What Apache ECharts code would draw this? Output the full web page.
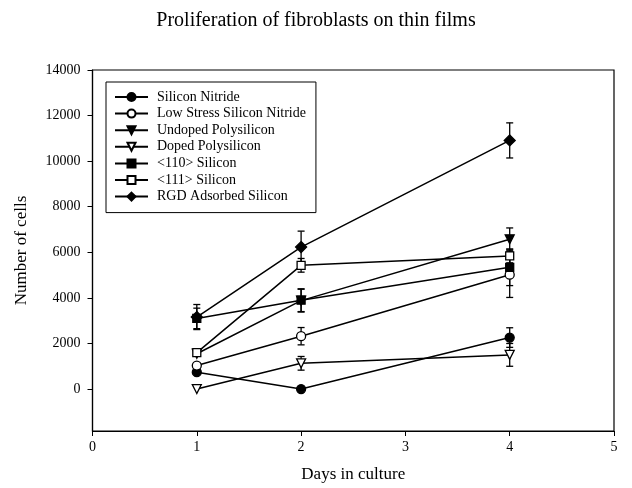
<!DOCTYPE html>
<html>
<head>
<meta charset="utf-8">
<script src="https://cdn.jsdelivr.net/npm/echarts@6/dist/echarts.min.js"></script>
<style>html,body{margin:0;padding:0;background:#fff;}#c{width:632px;height:488px;}</style>
</head>
<body>
<div id="c"></div>
<script>
var days = [1, 2, 4];
var yTicks = [0, 2000, 4000, 6000, 8000, 10000, 12000, 14000];
var seriesNames = ['Silicon Nitride', 'Low Stress Silicon Nitride', 'Undoped Polysilicon', 'Doped Polysilicon', '<110> Silicon', '<111> Silicon', 'RGD Adsorbed Silicon'];
var siliconNitride = [740, 0, 2260];
var siliconNitrideErr = [0, 0, 430];
var lowStress = [1030, 2320, 5020];
var lowStressErr = [0, 380, 1000];
var undoped = [1550, 3880, 6570];
var undopedErr = [0, 500, 500];
var doped = [0, 1130, 1500];
var dopedErr = [0, 300, 500];
var si110 = [3100, 3900, 5340];
var si110Err = [450, 500, 800];
var si111 = [1600, 5430, 5840];
var si111Err = [0, 300, 300];
var rgd = [3160, 6230, 10910];
var rgdErr = [550, 700, 770];

var values = [siliconNitride, lowStress, undoped, doped, si110, si111, rgd];
var errors = [siliconNitrideErr, lowStressErr, undopedErr, dopedErr, si110Err, si111Err, rgdErr];
var symbols = ['circle', 'circle', 'triangle', 'triangle', 'rect', 'rect', 'diamond'];
var filled = [true, false, true, false, true, false, true];
var sizes = [9, 9, 9, 9, 8, 8, 11];
var rotates = [0, 0, 180, 180, 0, 0, 0];

var FONT = 'Liberation Serif';
var series = [];
var errData = [];
for (var i = 0; i < values.length; i++) {
  series.push({
    name: seriesNames[i],
    type: 'line',
    data: days.map(function (d, j) { return [d, values[i][j]]; }),
    symbol: symbols[i],
    symbolSize: sizes[i],
    symbolRotate: rotates[i],
    showAllSymbol: true,
    lineStyle: { color: '#000', width: 1.5 },
    itemStyle: { color: filled[i] ? '#000' : '#fff', borderColor: '#000', borderWidth: 1.3 },
    z: 3,
    silent: true
  });
  for (var j = 0; j < days.length; j++) {
    if (errors[i][j] > 0) errData.push([days[j], values[i][j] - errors[i][j], values[i][j] + errors[i][j]]);
  }
}
series.push({
  type: 'custom',
  z: 2,
  silent: true,
  data: errData,
  renderItem: function (params, api) {
    var x = api.value(0), lo = api.value(1), hi = api.value(2);
    var p1 = api.coord([x, lo]), p2 = api.coord([x, hi]);
    var w = 3.5;
    var st = { stroke: '#000', lineWidth: 1.3 };
    return {
      type: 'group',
      children: [
        { type: 'line', shape: { x1: p1[0], y1: p1[1], x2: p2[0], y2: p2[1] }, style: st },
        { type: 'line', shape: { x1: p1[0] - w, y1: p1[1], x2: p1[0] + w, y2: p1[1] }, style: st },
        { type: 'line', shape: { x1: p2[0] - w, y1: p2[1], x2: p2[0] + w, y2: p2[1] }, style: st }
      ]
    };
  }
});

var chart = echarts.init(document.getElementById('c'));
chart.setOption({
  animation: false,
  backgroundColor: '#fff',
  title: {
    text: 'Proliferation of fibroblasts on thin films',
    left: 'center',
    top: 6,
    textStyle: { fontFamily: FONT, fontSize: 20, fontWeight: 'normal', color: '#000' }
  },
  legend: {
    data: seriesNames,
    orient: 'vertical',
    left: 106,
    top: 82,
    padding: [8, 10, 9, 8],
    itemGap: 2.6,
    itemWidth: 33,
    itemHeight: 10,
    borderColor: '#000',
    borderWidth: 1,
    backgroundColor: '#fff',
    selectedMode: false,
    textStyle: { fontFamily: FONT, fontSize: 14, color: '#000', lineHeight: 14, padding: [0, 0, 0, 4] }
  },
  grid: {
    left: 92.5, right: 18, top: 70, bottom: 53,
    show: true, borderColor: '#000', borderWidth: 1.2, backgroundColor: 'transparent'
  },
  xAxis: {
    type: 'value',
    min: 0, max: 5, interval: 1,
    name: 'Days in culture',
    nameLocation: 'middle',
    nameGap: 35,
    nameTextStyle: { fontFamily: FONT, fontSize: 17, color: '#000' },
    axisLine: { show: true, onZero: false, lineStyle: { color: '#000', width: 1.2 } },
    axisTick: { show: true, inside: false, length: 5, lineStyle: { color: '#000' } },
    axisLabel: { fontFamily: FONT, fontSize: 14, color: '#000', margin: 9 },
    splitLine: { show: false }
  },
  yAxis: {
    type: 'value',
    min: -1840, max: 14000,
    name: 'Number of cells',
    nameLocation: 'middle',
    nameGap: 62,
    nameTextStyle: { fontFamily: FONT, fontSize: 17, color: '#000' },
    axisLine: { show: true, onZero: false, lineStyle: { color: '#000', width: 1.2 } },
    axisTick: { show: true, inside: false, length: 5, customValues: yTicks, lineStyle: { color: '#000' } },
    axisLabel: { fontFamily: FONT, fontSize: 14, color: '#000', margin: 12, customValues: yTicks, formatter: function (v) { return String(v); } },
    splitLine: { show: false }
  },
  series: series
});
</script>
</body>
</html>
